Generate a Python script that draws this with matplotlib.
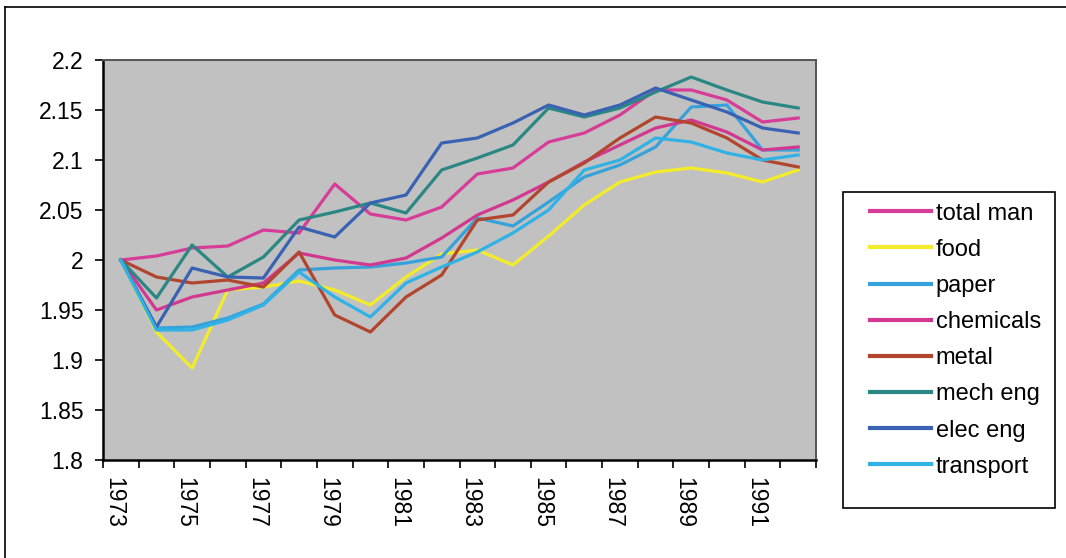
import matplotlib

matplotlib.use("Agg")
import matplotlib.pyplot as plt
from matplotlib.lines import Line2D
from matplotlib.patches import Rectangle

plt.rcParams.update({
    "font.family": ["Liberation Sans", "DejaVu Sans"],
    "font.size": 16,
})

# ── Данные ──
years = list(range(1973, 1993))

total_man = [2.000, 2.004, 2.012, 2.014, 2.030, 2.027, 2.076, 2.046, 2.040, 2.053,
             2.086, 2.092, 2.118, 2.127, 2.145, 2.170, 2.170, 2.160, 2.138, 2.142]
food = [2.000, 1.928, 1.892, 1.970, 1.973, 1.979, 1.970, 1.955, 1.983, 2.006,
        2.010, 1.995, 2.024, 2.055, 2.078, 2.088, 2.092, 2.087, 2.078, 2.090]
paper = [2.000, 1.932, 1.933, 1.942, 1.956, 1.990, 1.992, 1.993, 1.997, 2.003,
         2.042, 2.034, 2.058, 2.083, 2.095, 2.113, 2.153, 2.155, 2.110, 2.110]
chemicals = [2.000, 1.950, 1.963, 1.970, 1.977, 2.007, 2.000, 1.995, 2.002, 2.022,
             2.045, 2.060, 2.078, 2.098, 2.115, 2.132, 2.140, 2.128, 2.110, 2.113]
metal = [2.000, 1.983, 1.977, 1.980, 1.973, 2.008, 1.945, 1.928, 1.963, 1.985,
         2.040, 2.045, 2.078, 2.097, 2.122, 2.143, 2.137, 2.122, 2.100, 2.093]
mech_eng = [2.000, 1.962, 2.015, 1.983, 2.003, 2.040, 2.048, 2.057, 2.047, 2.090,
            2.102, 2.115, 2.152, 2.143, 2.152, 2.168, 2.183, 2.170, 2.158, 2.152]
elec_eng = [2.000, 1.933, 1.992, 1.983, 1.982, 2.033, 2.023, 2.057, 2.065, 2.117,
            2.122, 2.137, 2.155, 2.145, 2.155, 2.172, 2.160, 2.148, 2.132, 2.127]
transport = [2.000, 1.930, 1.930, 1.940, 1.955, 1.988, 1.963, 1.943, 1.977, 1.993,
             2.008, 2.027, 2.050, 2.090, 2.100, 2.122, 2.118, 2.107, 2.100, 2.105]

series = [
    ("total man", total_man, "#D63C98"),
    ("food", food, "#F2EC2A"),
    ("paper", paper, "#35A2DC"),
    ("chemicals", chemicals, "#D2388F"),
    ("metal", metal, "#B2452E"),
    ("mech eng", mech_eng, "#2A8784"),
    ("elec eng", elec_eng, "#3A62B2"),
    ("transport", transport, "#30B2E6"),
]

W, H = 1066, 558
fig = plt.figure(figsize=(W / 100, H / 100), dpi=100)
fig.patch.set_facecolor("white")

ax = fig.add_axes([103 / W, 1 - 460 / H, (816 - 103) / W, 400 / H])
ax.set_facecolor("#C1C1C1")

x = list(range(len(years)))
for name, values, color in series:
    ax.plot(x, values, color=color, lw=2.3, label=name, solid_joinstyle="round")

ax.set_xlim(-0.5, len(years) - 0.5)
ax.set_ylim(1.8, 2.2)

# Ось Y
ax.set_yticks([1.8 + 0.05 * i for i in range(9)])
ax.set_yticklabels(["1.8", "1.85", "1.9", "1.95", "2", "2.05", "2.1", "2.15", "2.2"])
ax.tick_params(axis="y", direction="out", length=6, width=1.2, pad=8, labelsize=16.5)

# Ось X: засечки между категориями, подписи через год
ax.set_xticks([i - 0.5 for i in range(len(years) + 1)])
ax.set_xticklabels([])
ax.tick_params(axis="x", which="major", direction="out", length=6, width=1.2)
ax.set_xticks([i - 0.2 for i in x[::2]], minor=True)
ax.set_xticklabels([str(y) for y in years[::2]], minor=True, rotation=270,
                   ha="center", va="top")
ax.tick_params(axis="x", which="minor", length=0, pad=12, labelsize=16.5)

for side in ("left", "bottom"):
    ax.spines[side].set_linewidth(1.8)
    ax.spines[side].set_color("black")
for side in ("top", "right"):
    ax.spines[side].set_linewidth(1.4)
    ax.spines[side].set_color("#555555")
ax.grid(False)

# ── Легенда ──
fig.patches.append(Rectangle((843 / W, 1 - 508 / H), (1055 - 843) / W, (508 - 192) / H,
                             transform=fig.transFigure, facecolor="white",
                             edgecolor="black", lw=1.2))
leg = fig.legend(loc="upper left", bbox_to_anchor=(853 / W, 1 - 186 / H),
                 frameon=False, handlelength=2.6, handletextpad=0.2,
                 labelspacing=0.6, fontsize=17, borderpad=0.2)
for line in leg.get_lines():
    line.set_linewidth(3)

# Рамка диаграммы
fig.add_artist(Line2D([5 / W, 5 / W], [0, 1 - 7 / H], transform=fig.transFigure,
                      color="black", lw=1.2))
fig.add_artist(Line2D([5 / W, 1], [1 - 7 / H, 1 - 7 / H], transform=fig.transFigure,
                      color="black", lw=1.2))

fig.savefig("out.png", dpi=100)
plt.close(fig)
